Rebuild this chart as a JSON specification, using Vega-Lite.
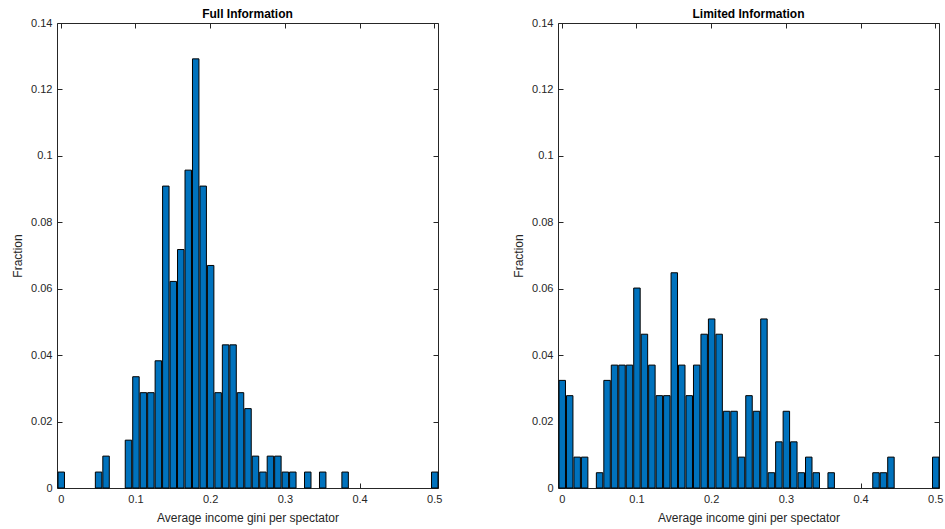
{
  "$schema": "https://vega.github.io/schema/vega-lite/v6.json",
  "padding": {"left": 11, "top": 8, "right": 3, "bottom": 2},
  "spacing": 70,
  "background": "white",
  "config": {
    "font": "Liberation Sans",
    "view": {"stroke": null},
    "axis": {
      "grid": false,
      "domainColor": "#262626",
      "tickColor": "#262626",
      "labelColor": "#262626",
      "titleColor": "#262626",
      "labelFontSize": 11,
      "titleFontSize": 12,
      "titleFontWeight": "normal",
      "tickSize": -5,
      "labelPadding": 10,
      "domainWidth": 1,
      "tickWidth": 1
    },
    "title": {"fontSize": 12, "fontWeight": "bold", "color": "#000000", "offset": -4}
  },
  "hconcat": [
    {
      "width": 381,
      "height": 465,
      "title": {"text": "Full Information"},
      "data": {"values": [
        {"b0": -0.005, "b1": 0.005, "frac": 0.0048},
        {"b0": 0.045, "b1": 0.055, "frac": 0.0048},
        {"b0": 0.055, "b1": 0.065, "frac": 0.0096},
        {"b0": 0.085, "b1": 0.095, "frac": 0.0144},
        {"b0": 0.095, "b1": 0.105, "frac": 0.0335},
        {"b0": 0.105, "b1": 0.115, "frac": 0.0287},
        {"b0": 0.115, "b1": 0.125, "frac": 0.0287},
        {"b0": 0.125, "b1": 0.135, "frac": 0.0383},
        {"b0": 0.135, "b1": 0.145, "frac": 0.0909},
        {"b0": 0.145, "b1": 0.155, "frac": 0.0622},
        {"b0": 0.155, "b1": 0.165, "frac": 0.0718},
        {"b0": 0.165, "b1": 0.175, "frac": 0.0957},
        {"b0": 0.175, "b1": 0.185, "frac": 0.1292},
        {"b0": 0.185, "b1": 0.195, "frac": 0.0909},
        {"b0": 0.195, "b1": 0.205, "frac": 0.0670},
        {"b0": 0.205, "b1": 0.215, "frac": 0.0287},
        {"b0": 0.215, "b1": 0.225, "frac": 0.0431},
        {"b0": 0.225, "b1": 0.235, "frac": 0.0431},
        {"b0": 0.235, "b1": 0.245, "frac": 0.0287},
        {"b0": 0.245, "b1": 0.255, "frac": 0.0239},
        {"b0": 0.255, "b1": 0.265, "frac": 0.0096},
        {"b0": 0.265, "b1": 0.275, "frac": 0.0048},
        {"b0": 0.275, "b1": 0.285, "frac": 0.0096},
        {"b0": 0.285, "b1": 0.295, "frac": 0.0096},
        {"b0": 0.295, "b1": 0.305, "frac": 0.0048},
        {"b0": 0.305, "b1": 0.315, "frac": 0.0048},
        {"b0": 0.325, "b1": 0.335, "frac": 0.0048},
        {"b0": 0.345, "b1": 0.355, "frac": 0.0048},
        {"b0": 0.375, "b1": 0.385, "frac": 0.0048},
        {"b0": 0.495, "b1": 0.505, "frac": 0.0048}
      ]},
      "layer": [
        {
          "mark": {"type": "bar", "color": "#0072BD", "stroke": "#000000", "strokeWidth": 1},
          "encoding": {
            "x": {"field": "b0", "type": "quantitative", "bin": {"binned": true, "step": 0.01}, "scale": {"domain": [-0.005, 0.505], "nice": false, "zero": false},
                  "axis": {"orient": "bottom", "values": [0, 0.1, 0.2, 0.3, 0.4, 0.5], "format": "~g", "title": "Average income gini per spectator", "titlePadding": 8}},
            "x2": {"field": "b1"},
            "y": {"field": "frac", "type": "quantitative", "scale": {"domain": [0, 0.14], "nice": false},
                  "axis": {"orient": "left", "values": [0, 0.02, 0.04, 0.06, 0.08, 0.1, 0.12, 0.14], "format": "~g", "title": "Fraction", "titlePadding": 6}}
          }
        },
        {
          "mark": {"type": "bar", "opacity": 0},
          "encoding": {
            "x": {"field": "b0", "type": "quantitative", "bin": {"binned": true, "step": 0.01}, "scale": {"domain": [-0.005, 0.505], "nice": false, "zero": false},
                  "axis": {"orient": "top", "values": [0, 0.1, 0.2, 0.3, 0.4, 0.5], "labels": false, "title": null, "minExtent": 0, "maxExtent": 0}},
            "x2": {"field": "b1"},
            "y": {"field": "frac", "type": "quantitative", "scale": {"domain": [0, 0.14], "nice": false},
                  "axis": {"orient": "right", "values": [0, 0.02, 0.04, 0.06, 0.08, 0.1, 0.12, 0.14], "labels": false, "title": null, "minExtent": 0, "maxExtent": 0}}
          }
        }
      ],
      "resolve": {"axis": {"x": "independent", "y": "independent"}}
    },
    {
      "width": 381,
      "height": 465,
      "title": {"text": "Limited Information"},
      "data": {"values": [
        {"b0": -0.005, "b1": 0.005, "frac": 0.0324},
        {"b0": 0.005, "b1": 0.015, "frac": 0.0278},
        {"b0": 0.015, "b1": 0.025, "frac": 0.0093},
        {"b0": 0.025, "b1": 0.035, "frac": 0.0093},
        {"b0": 0.045, "b1": 0.055, "frac": 0.0046},
        {"b0": 0.055, "b1": 0.065, "frac": 0.0324},
        {"b0": 0.065, "b1": 0.075, "frac": 0.0370},
        {"b0": 0.075, "b1": 0.085, "frac": 0.0370},
        {"b0": 0.085, "b1": 0.095, "frac": 0.0370},
        {"b0": 0.095, "b1": 0.105, "frac": 0.0602},
        {"b0": 0.105, "b1": 0.115, "frac": 0.0463},
        {"b0": 0.115, "b1": 0.125, "frac": 0.0370},
        {"b0": 0.125, "b1": 0.135, "frac": 0.0278},
        {"b0": 0.135, "b1": 0.145, "frac": 0.0278},
        {"b0": 0.145, "b1": 0.155, "frac": 0.0648},
        {"b0": 0.155, "b1": 0.165, "frac": 0.0370},
        {"b0": 0.165, "b1": 0.175, "frac": 0.0278},
        {"b0": 0.175, "b1": 0.185, "frac": 0.0370},
        {"b0": 0.185, "b1": 0.195, "frac": 0.0463},
        {"b0": 0.195, "b1": 0.205, "frac": 0.0509},
        {"b0": 0.205, "b1": 0.215, "frac": 0.0463},
        {"b0": 0.215, "b1": 0.225, "frac": 0.0231},
        {"b0": 0.225, "b1": 0.235, "frac": 0.0231},
        {"b0": 0.235, "b1": 0.245, "frac": 0.0093},
        {"b0": 0.245, "b1": 0.255, "frac": 0.0278},
        {"b0": 0.255, "b1": 0.265, "frac": 0.0231},
        {"b0": 0.265, "b1": 0.275, "frac": 0.0509},
        {"b0": 0.275, "b1": 0.285, "frac": 0.0046},
        {"b0": 0.285, "b1": 0.295, "frac": 0.0139},
        {"b0": 0.295, "b1": 0.305, "frac": 0.0231},
        {"b0": 0.305, "b1": 0.315, "frac": 0.0139},
        {"b0": 0.315, "b1": 0.325, "frac": 0.0046},
        {"b0": 0.325, "b1": 0.335, "frac": 0.0093},
        {"b0": 0.335, "b1": 0.345, "frac": 0.0046},
        {"b0": 0.355, "b1": 0.365, "frac": 0.0046},
        {"b0": 0.415, "b1": 0.425, "frac": 0.0046},
        {"b0": 0.425, "b1": 0.435, "frac": 0.0046},
        {"b0": 0.435, "b1": 0.445, "frac": 0.0093},
        {"b0": 0.495, "b1": 0.505, "frac": 0.0093}
      ]},
      "layer": [
        {
          "mark": {"type": "bar", "color": "#0072BD", "stroke": "#000000", "strokeWidth": 1},
          "encoding": {
            "x": {"field": "b0", "type": "quantitative", "bin": {"binned": true, "step": 0.01}, "scale": {"domain": [-0.005, 0.505], "nice": false, "zero": false},
                  "axis": {"orient": "bottom", "values": [0, 0.1, 0.2, 0.3, 0.4, 0.5], "format": "~g", "title": "Average income gini per spectator", "titlePadding": 8}},
            "x2": {"field": "b1"},
            "y": {"field": "frac", "type": "quantitative", "scale": {"domain": [0, 0.14], "nice": false},
                  "axis": {"orient": "left", "values": [0, 0.02, 0.04, 0.06, 0.08, 0.1, 0.12, 0.14], "format": "~g", "title": "Fraction", "titlePadding": 6}}
          }
        },
        {
          "mark": {"type": "bar", "opacity": 0},
          "encoding": {
            "x": {"field": "b0", "type": "quantitative", "bin": {"binned": true, "step": 0.01}, "scale": {"domain": [-0.005, 0.505], "nice": false, "zero": false},
                  "axis": {"orient": "top", "values": [0, 0.1, 0.2, 0.3, 0.4, 0.5], "labels": false, "title": null, "minExtent": 0, "maxExtent": 0}},
            "x2": {"field": "b1"},
            "y": {"field": "frac", "type": "quantitative", "scale": {"domain": [0, 0.14], "nice": false},
                  "axis": {"orient": "right", "values": [0, 0.02, 0.04, 0.06, 0.08, 0.1, 0.12, 0.14], "labels": false, "title": null, "minExtent": 0, "maxExtent": 0}}
          }
        }
      ],
      "resolve": {"axis": {"x": "independent", "y": "independent"}}
    }
  ]
}
